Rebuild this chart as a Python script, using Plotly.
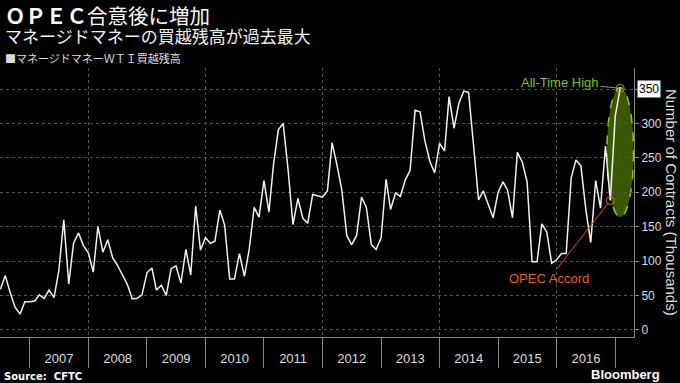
import pandas as pd
import plotly.graph_objects as go

# ---------------- data ----------------
start_month = "2006-07-01"
net_long = [
    59, 79, 54, 33, 23, 41, 41, 42, 51, 46, 58, 47,          # 2006-07 .. 2007-06
    86, 160, 67, 126, 141, 123, 112, 84, 150, 113, 131, 105,  # 2007-07 .. 2008-06
    94, 80, 66, 45, 46, 51, 83, 90, 58, 65, 50, 89,           # 2008-07 .. 2009-06
    93, 68, 117, 80, 180, 116, 134, 126, 129, 174, 152, 74,   # 2009-07 .. 2010-06
    74, 111, 78, 117, 178, 164, 217, 171, 239, 291, 300, 232, # 2010-07 .. 2011-06
    153, 191, 162, 155, 197, 195, 193, 202, 272, 239, 203, 137,  # 2011-07 .. 2012-06
    124, 137, 193, 178, 124, 117, 134, 219, 175, 199, 194, 218,  # 2012-07 .. 2013-06
    232, 319, 317, 275, 245, 228, 271, 260, 339, 293, 329, 347,  # 2013-07 .. 2014-06
    345, 268, 189, 202, 182, 163, 200, 215, 203, 163, 258, 244,  # 2014-07 .. 2015-06
    215, 99, 99, 154, 142, 97, 102, 111, 111, 221, 247, 238,     # 2015-07 .. 2016-06
    176, 127, 217, 177, 267, 188, 311, 351,                      # 2016-07 .. 2017-02
]
dates = pd.date_range(start_month, periods=len(net_long), freq="MS")

year_labels = [str(y) for y in range(2007, 2017)]
year_label_pos = [f"{y}-07-02" for y in range(2007, 2017)]
y_ticks = [0, 50, 100, 150, 200, 250, 300, 350]
y_tick_labels = ["0", "50", "100", "150", "200", "250", "300", ""]
x_range = ["2006-06-29", "2017-04-28"]
y_range = [-10.2, 380.5]

opec_idx = 125                 # OPEC accord
ath_idx = len(net_long) - 1    # all-time high

title_text = "<b>ＯＰＥＣ</b>合意後に増加"
subtitle_text = "マネージドマネーの買越残高が過去最大"
legend_text = "■マネージドマネーＷＴＩ買越残高"

LATIN = "Liberation Sans, Arial, sans-serif"
CJK = "Noto Sans CJK JP, sans-serif"

fig = go.Figure()

# ellipse highlight around the latest surge
ath_date = dates[ath_idx]
fig.add_shape(
    type="circle", xref="x", yref="y", layer="below",
    x0=ath_date - pd.Timedelta(days=83), x1=ath_date + pd.Timedelta(days=83),
    y0=164, y1=352,
    fillcolor="#3a5800", line=dict(color="#8cc919", width=1.5, dash="dash"),
)

fig.add_trace(go.Scatter(
    x=dates, y=net_long, mode="lines",
    line=dict(color="#f0f0f0", width=1.5),
    showlegend=False, hoverinfo="x+y",
))
fig.add_trace(go.Scatter(
    x=[dates[opec_idx]], y=[net_long[opec_idx]], mode="markers",
    marker=dict(symbol="circle-open", size=8, color="#e0600a", line=dict(width=1)),
    showlegend=False, hoverinfo="skip",
))
fig.add_trace(go.Scatter(
    x=[dates[ath_idx]], y=[net_long[ath_idx]], mode="markers",
    marker=dict(symbol="circle-open", size=8, color="#8aa060", line=dict(width=1)),
    showlegend=False, hoverinfo="skip",
))
# carrier for the label axis
fig.add_trace(go.Scatter(
    x=[dates[0]], y=[None], xaxis="x2", yaxis="y", mode="lines",
    showlegend=False, hoverinfo="skip",
))

annotations = [
    dict(xref="paper", yref="paper", x=0, xshift=3, y=1.165, xanchor="left", yanchor="middle",
         align="left",
         text=(f"<span style='font-size:20.5px'>{title_text}</span><br>"
               f"<span style='font-size:17px;color:#f0f0f0'>{subtitle_text}</span>"),
         showarrow=False,
         font=dict(family=CJK, size=14.6, color="#ffffff")),
    dict(xref="paper", yref="paper", x=0, xshift=3, y=1.037, xanchor="left", yanchor="middle",
         text=legend_text, showarrow=False,
         font=dict(family=CJK, size=11, color="#dddddd")),
    dict(xref="paper", yref="paper", x=0, xshift=2, y=-0.145, xanchor="left", yanchor="middle",
         text="<b>Source:  CFTC</b>", showarrow=False,
         font=dict(family="DejaVu Sans, sans-serif", size=10, color="#ffffff")),
    dict(xref="paper", yref="paper", x=1.044, y=-0.138, xanchor="right", yanchor="middle",
         text="<b>Bloomberg</b>", showarrow=False,
         font=dict(family=LATIN, size=13, color="#ffffff")),
    dict(xref="paper", yref="paper", x=1.0584, y=0.502, xanchor="center", yanchor="middle",
         text="Number of Contracts (Thousands)", textangle=90, showarrow=False,
         font=dict(family=LATIN, size=15, color="#dddddd")),
    dict(xref="paper", yref="y", x=1, xshift=3, y=350, xanchor="left", yanchor="middle",
         text="350", showarrow=False, bgcolor="#ffffff", borderpad=1,
         font=dict(family=LATIN, size=12, color="#000000")),
    dict(xref="x", yref="y", x=dates[ath_idx], y=net_long[ath_idx],
         text="All-Time High", showarrow=True, arrowhead=0, arrowwidth=1,
         arrowcolor="#8aa060", ax=-60, ay=-6, standoff=3,
         font=dict(family=LATIN, size=13, color="#7dc21e")),
    dict(xref="x", yref="y", x=dates[opec_idx], y=net_long[opec_idx],
         text="OPEC Accord", showarrow=True, arrowhead=0, arrowwidth=1,
         arrowcolor="#d9560a", ax=-61, ay=78, standoff=3,
         font=dict(family=LATIN, size=13, color="#e8620f")),
]

fig.update_layout(
    width=680, height=383,
    margin=dict(l=0, r=46, t=68, b=46),
    paper_bgcolor="#000000", plot_bgcolor="#000000",
    showlegend=False,
    font=dict(family=LATIN, color="#dddddd"),
    xaxis=dict(
        type="date", range=x_range, anchor="y",
        tick0="2008-01-01", dtick="M24",
        ticks="outside", ticklen=30, tickcolor="#888888", tickwidth=1,
        showticklabels=False,
        showgrid=True, gridcolor="#555555", griddash="dot", gridwidth=1,
        showline=True, linecolor="#888888", linewidth=1, zeroline=False,
        minor=dict(tick0="2007-01-01", dtick="M12", ticks="outside", ticklen=30,
                   tickcolor="#888888", tickwidth=1, showgrid=False),
    ),
    xaxis2=dict(
        type="date", range=x_range, overlaying="x", anchor="y", side="bottom",
        tickmode="array", tickvals=year_label_pos, ticktext=year_labels,
        ticks="", showgrid=False, showline=False, zeroline=False,
        tickfont=dict(family=LATIN, size=13, color="#dddddd"),
        ticklabelstandoff=12,
    ),
    yaxis=dict(
        side="right", range=y_range, tickmode="array",
        tickvals=y_ticks, ticktext=y_tick_labels,
        ticks="outside", ticklen=4, tickcolor="#888888",
        showline=True, linecolor="#888888", linewidth=1,
        showgrid=True, gridcolor="#555555", griddash="dot", gridwidth=1,
        zeroline=False,
        tickfont=dict(family=LATIN, size=12, color="#dddddd"),
    ),
    annotations=annotations,
)

fig.write_html(
    "out.html",
    config={"displayModeBar": False},
    post_script="document.body.style.margin='0';document.body.style.padding='0';",
)
